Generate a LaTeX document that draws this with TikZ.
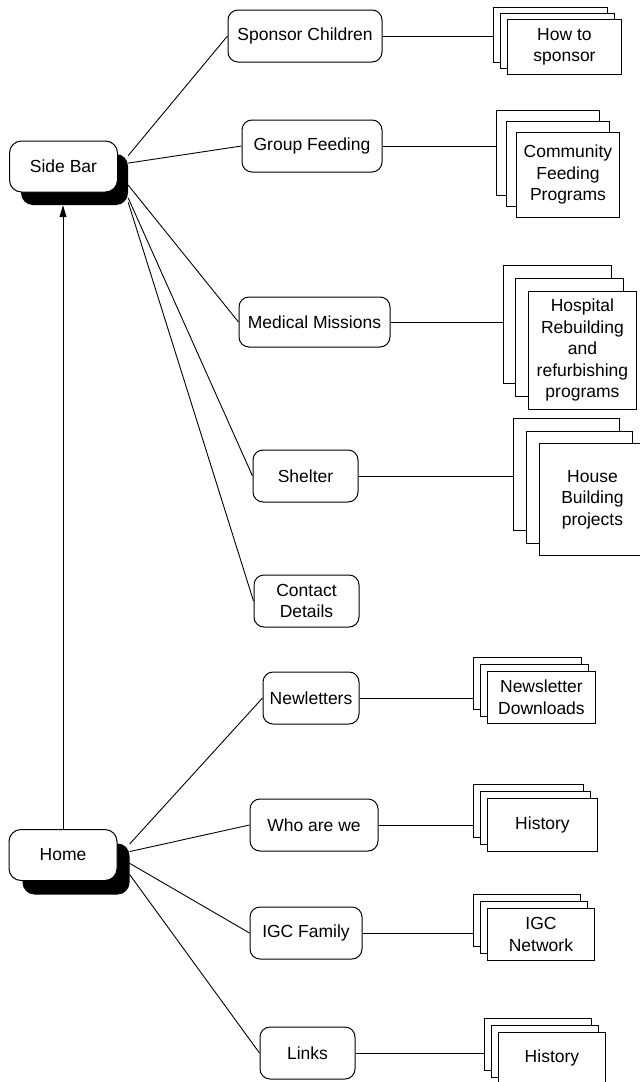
\documentclass[tikz,border=0pt]{standalone}
\usepackage{fontspec}
\setmainfont{Liberation Sans}
\usetikzlibrary{arrows.meta}
\begin{document}
\begin{tikzpicture}[x=1pt,y=-1pt,
  every node/.style={font=\fontsize{17.5}{21.5}\selectfont, inner sep=0pt, align=center},
  rootbox/.style={draw, fill=white, rounded corners=12pt, line width=1pt,
                  minimum width=108pt, minimum height=51pt},
  rootshade/.style={fill=black, rounded corners=12pt,
                  minimum width=107pt, minimum height=51pt},
  topic/.style 2 args={draw, fill=white, rounded corners=10pt, line width=1pt,
                  minimum width=#1pt, minimum height=#2pt},
  card/.style 2 args={draw, fill=white, line width=0.9pt, anchor=north west,
                  minimum width=#1pt, minimum height=#2pt},
  link/.style={line width=0.9pt},
]
\useasboundingbox (0,0) rectangle (640,1082);

% ---------- root pages ----------
\node[rootshade] (sidebarshade) at (74.5,179.5) {};
\node[rootbox]   (sidebar)      at (63.5,166.5) {Side Bar};
\node[rootshade] (homeshade)    at (76,869) {};
\node[rootbox]   (home)         at (63,855) {Home};

\draw[link, -{Triangle[length=12pt,width=7pt]}]
  (home.north) -- (home.north |- sidebarshade.south);

% ---------- side bar sections ----------
\node[topic={154}{52}] (sponsor) at (305,36)    {Sponsor Children};
\node[topic={140}{52}] (feeding) at (312,146)   {Group Feeding};
\node[topic={151}{50}] (medical) at (314.5,322) {Medical Missions};
\node[topic={105}{52}] (shelter) at (305.5,476) {Shelter};
\node[topic={105}{52}] (contact) at (306.5,601) {Contact\\Details};

\draw[link] (sidebarshade.24)  -- (sponsor.west);
\draw[link] (sidebarshade.17)  -- (feeding.west);
\draw[link] (sidebarshade.-6)  -- (medical.west);
\draw[link] (sidebarshade.-19) -- (shelter.west);
\draw[link] (sidebarshade.-23) -- (contact.west);

% ---------- home sections ----------
\node[topic={96}{52}]  (news)  at (311,698)    {Newletters};
\node[topic={128}{52}] (who)   at (314,825)    {Who are we};
\node[topic={112}{52}] (igc)   at (306,933)    {IGC Family};
\node[topic={95}{52}]  (links) at (307.5,1053) {Links};

\draw[link] (homeshade.25)   -- (news.west);
\draw[link] (homeshade.18)   -- (who.west);
\draw[link] (homeshade.6.5)  -- (igc.west);
\draw[link] (homeshade.-6.5) -- (links.west);

% ---------- page stacks ----------
% how to sponsor
\node[card={114}{55}] (howA) at (493,7)  {};
\node[card={114}{55}] (howB) at (500,13) {};
\node[card={114}{55}] (howC) at (507,19) {How to\\sponsor};
\draw[link] (sponsor.east) -- (sponsor.east -| howA.west);

% community feeding
\node[card={103}{85}] (cfpA) at (496,110) {};
\node[card={103}{85}] (cfpB) at (506,121) {};
\node[card={103}{85}] (cfpC) at (516,132) {Community\\Feeding\\Programs};
\draw[link] (feeding.east) -- (feeding.east -| cfpA.west);

% hospital programs
\node[card={108}{118}] (hosA) at (503,265) {};
\node[card={108}{118}] (hosB) at (515,278) {};
\node[card={108}{118}] (hosC) at (528,291) {Hospital\\Rebuilding\\and\\refurbishing\\programs};
\draw[link] (medical.east) -- (medical.east -| hosA.west);

% house building
\node[card={106}{112}] (houA) at (513,418) {};
\node[card={106}{112}] (houB) at (526,431) {};
\node[card={106}{112}] (houC) at (539,443) {House\\Building\\projects};
\draw[link] (shelter.east) -- (shelter.east -| houA.west);

% newsletter downloads
\node[card={108}{52}] (nwdA) at (473,657) {};
\node[card={108}{52}] (nwdB) at (480,664) {};
\node[card={108}{52}] (nwdC) at (487,671) {Newsletter\\Downloads};
\draw[link] (news.east) -- (news.east -| nwdA.west);

% history
\node[card={110}{53}] (hisA) at (473,784) {};
\node[card={110}{53}] (hisB) at (480,791) {};
\node[card={110}{53}] (hisC) at (487,798) {History};
\draw[link] (who.east) -- (who.east -| hisA.west);

% igc network
\node[card={107}{52}] (netA) at (473,894) {};
\node[card={107}{52}] (netB) at (480,901) {};
\node[card={107}{52}] (netC) at (487,908) {IGC\\Network};
\draw[link] (igc.east) -- (igc.east -| netA.west);

% links history
\node[card={107}{52}] (lnkA) at (484,1018) {};
\node[card={107}{52}] (lnkB) at (491,1025) {};
\node[card={107}{52}] (lnkC) at (498,1032) {History};
\draw[link] (links.east) -- (links.east -| lnkA.west);
\end{tikzpicture}
\end{document}
